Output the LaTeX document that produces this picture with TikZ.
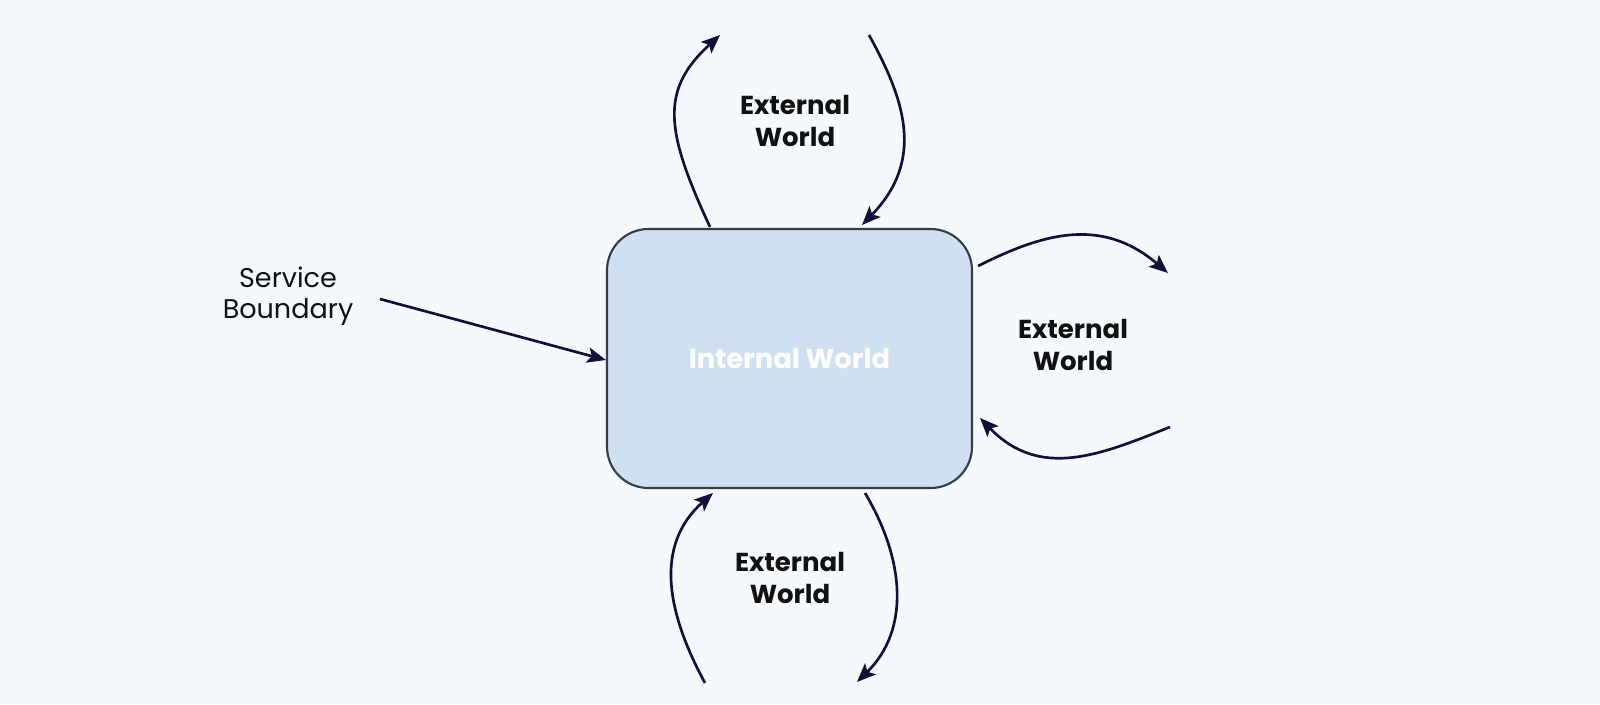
\documentclass[tikz,border=0pt]{standalone}
\usepackage{fontspec}
\setmainfont{Poppins}
\usetikzlibrary{arrows.meta}
\definecolor{bgc}{HTML}{F4F9FE}
\definecolor{boxfill}{HTML}{CFE0F2}
\definecolor{boxline}{HTML}{383C44}
\definecolor{arrc}{HTML}{10103A}
\definecolor{txtc}{HTML}{111111}
\tikzset{
  conn/.style={draw=arrc, line width=2pt, -{Stealth[length=14pt,width=11.5pt,inset=3pt]}},
  worldbox/.style={draw=boxline, line width=1.6pt, fill=boxfill, rounded corners=31pt,
    minimum width=273.75pt, minimum height=194.25pt, inner sep=0pt,
    font=\fontsize{20.5}{24}\selectfont\bfseries, text=white},
  extlabel/.style={align=center, font=\fontsize{19.5}{23.7}\selectfont\bfseries, text=txtc},
  svclabel/.style={align=center, font=\fontsize{20.3}{23.7}\selectfont, text=txtc}
}
\begin{document}
\begin{tikzpicture}[x=0.75pt,y=-0.75pt]
\fill[bgc] (0,0) rectangle (1600,704);
\useasboundingbox (0,0) rectangle (1600,704);

\node[worldbox] (box) at (789.5,358.5) {Internal World};

\node[extlabel] (extTop) at (795,121) {External\\World};
\node[extlabel] (extRight) at (1073,345) {External\\World};
\node[extlabel] (extBottom) at (790,578) {External\\World};
\node[svclabel] (svc) at (288,296) {Service\\Boundary};

% coordinates on the box border and free ends
\coordinate (tA) at (710,227);
\coordinate (tAend) at (720,35);
\coordinate (tB) at (869,35);
\coordinate (tBend) at (862,225);
\coordinate (rA) at (978,266);
\coordinate (rAend) at (1168,273);
\coordinate (rB) at (1170,427);
\coordinate (rBend) at (980,418);
\coordinate (bA) at (705,683);
\coordinate (bAend) at (713,493);
\coordinate (bB) at (865,493);
\coordinate (bBend) at (857,682);
\coordinate (sStart) at (380,299);

\draw[conn] (tA) .. controls (665,130) and (660,90) .. (tAend);
\draw[conn] (tB) .. controls (905,100) and (925,160) .. (tBend);
\draw[conn] (rA) .. controls (1040,235) and (1100,215) .. (rAend);
\draw[conn] (rB) .. controls (1100,455) and (1040,480) .. (rBend);
\draw[conn] (bA) .. controls (660,600) and (660,540) .. (bAend);
\draw[conn] (bB) .. controls (905,560) and (910,630) .. (bBend);
\draw[conn] (sStart) -- (box.west |- 0,360);
\end{tikzpicture}
\end{document}
